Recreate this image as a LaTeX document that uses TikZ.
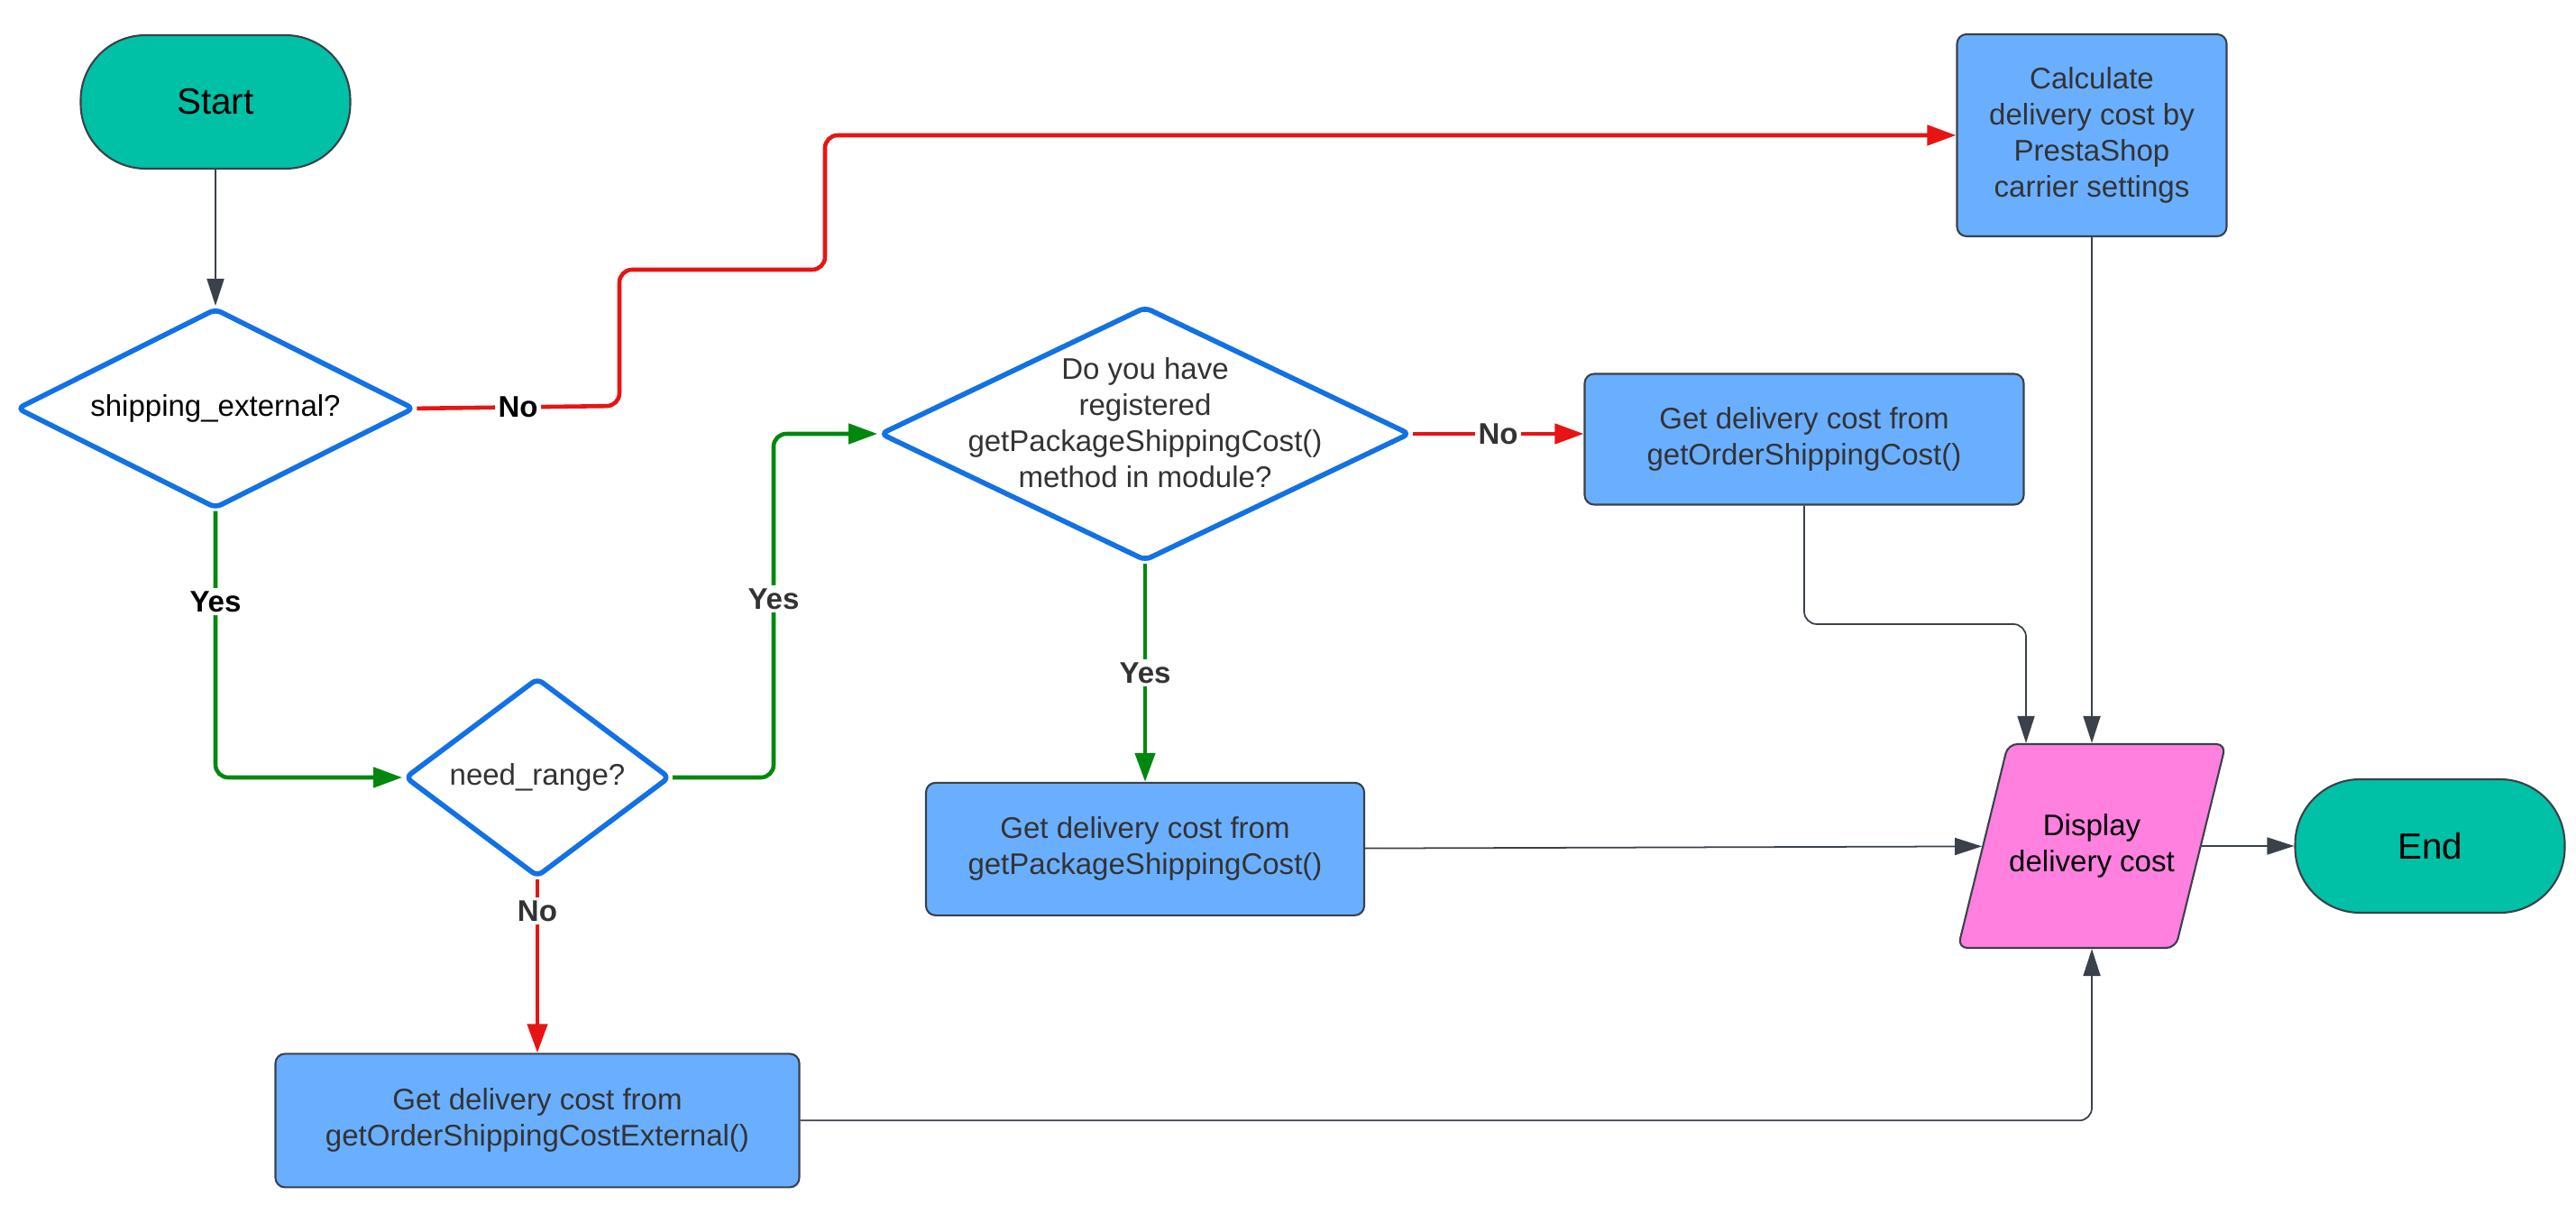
\documentclass[tikz,border=0pt]{standalone}
\usepackage{fontspec}
\setmainfont{Liberation Sans}
\usepackage{tikz}
\usepackage{xcolor}
\usetikzlibrary{positioning,arrows.meta,shapes.geometric}
\definecolor{fcteal}{RGB}{0,192,166}
\definecolor{fcbox}{RGB}{106,175,255}
\definecolor{fcpink}{RGB}{255,128,223}
\definecolor{fcblue}{RGB}{18,113,229}
\definecolor{fcred}{RGB}{232,20,20}
\definecolor{fcgreen}{RGB}{0,136,14}
\definecolor{fcgray}{RGB}{58,65,74}
\definecolor{fctext}{RGB}{51,51,51}
\tikzset{
  terminal/.style={draw=fcgray, line width=0.6pt, rounded corners=0.72cm, fill=fcteal, minimum width=2.99cm, minimum height=1.48cm, font=\fontsize{11.5}{14}\selectfont},
  proc/.style={draw=fcgray, line width=0.6pt, rounded corners=3pt, fill=fcbox, align=center, text=fctext, font=\fontsize{9.4}{11.4}\selectfont},
  decision/.style={diamond, shape aspect=2, draw=fcblue, line width=1.6pt, rounded corners=2pt, fill=white, inner sep=0pt, align=center, font=\fontsize{9.4}{11.4}\selectfont},
  io/.style={trapezium, trapezium left angle=76, trapezium right angle=104, trapezium stretches body=true, inner xsep=0pt, inner ysep=0.76cm, draw=fcgray, line width=0.6pt, rounded corners=3pt, fill=fcpink, align=center, font=\fontsize{9.4}{11.4}\selectfont},
  flow/.style={-{Triangle[length=0.3cm, width=0.19cm]}, line width=0.5pt, fcgray},
  yesflow/.style={-{Triangle[length=0.32cm, width=0.22cm]}, line width=1.3pt, fcgreen},
  noflow/.style={-{Triangle[length=0.32cm, width=0.22cm]}, line width=1.3pt, fcred},
  lbl/.style={fill=white, inner sep=1pt, text=fctext, font=\fontsize{9.4}{11.4}\selectfont\bfseries}
}

\begin{document}
\begin{tikzpicture}
    \useasboundingbox (0,0) rectangle (28.57,-13.46);
    \node[terminal] (start) at (2.39,-1.13) {Start};
    \node[decision, minimum width=4.41cm, minimum height=2.22cm, below=1.51cm of start] (ext) {shipping\_external?};
    \node[decision, minimum width=2.94cm, minimum height=2.21cm, text=fctext] (range) at (5.96,-8.62) {need\_range?};
    \node[decision, minimum width=5.88cm, minimum height=2.82cm, label={[text=fctext, align=center, yshift=0.12cm, font=\fontsize{9.4}{11.4}\selectfont]center:Do you have\\registered\\getPackageShippingCost()\\method in module?}] (reg) at (12.70,-4.81) {};
    \node[proc, minimum width=4.87cm, minimum height=1.45cm] (order) at (20.01,-4.87) {Get delivery cost from\\getOrderShippingCost()};
    \node[proc, minimum width=2.99cm, minimum height=2.24cm] (calc) at (23.20,-1.50) {Calculate\\delivery cost by\\PrestaShop\\carrier settings};
    \node[proc, minimum width=4.86cm, minimum height=1.47cm, below=2.42cm of reg] (pkg) {Get delivery cost from\\getPackageShippingCost()};
    \node[proc, minimum width=5.81cm, minimum height=1.48cm, below=1.92cm of range] (extbox) {Get delivery cost from\\getOrderShippingCostExternal()};
    \node[io, minimum width=2.97cm, minimum height=2.26cm] (disp) at (23.20,-9.38) {Display\\delivery cost};
    \node[terminal] (finish) at (26.95,-9.38) {End};

    \draw[flow] (start) -- (ext);
    \draw[noflow, rounded corners=4pt] (ext.east) -- node[lbl, text=black] {No} (6.87,-4.50) |- (9.15,-2.99) |- (calc.west);
    \draw[yesflow, rounded corners=4pt] (ext.south) |- node[lbl, text=black, pos=0.17] {Yes} (range.west);
    \draw[yesflow, rounded corners=4pt] (range.east) -- (8.58,-8.62) |- node[lbl, pos=0.26] {Yes} (reg.west);
    \draw[noflow] (range.south) -- node[lbl, pos=0.18] {No} (extbox.north);
    \draw[noflow] (reg.east) -- node[lbl] {No} (reg.east -| order.west);
    \draw[yesflow] (reg.south) -- node[lbl] {Yes} (pkg.north);
    \draw[flow, rounded corners=4pt] (order.south) |- (22.47,-6.92) -- (22.47,-6.92 |- disp.north);
    \draw[flow] (calc) -- (disp);
    \draw[flow] (pkg) -- (disp);
    \draw[flow, rounded corners=4pt] (extbox.east) -| (disp.south);
    \draw[flow] (disp) -- (finish);
\end{tikzpicture}
\end{document}
